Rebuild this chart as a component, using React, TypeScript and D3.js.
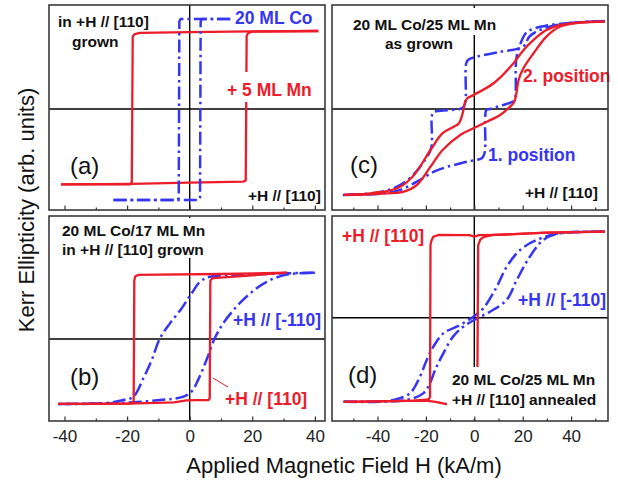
import { useEffect, useRef } from 'react';
import * as d3 from 'd3';

// field ticks (kA/m)
const ticksAB = [-40, -30, -20, -10, 0, 10, 20, 30, 40];
const ticksCD = [-50, -40, -30, -20, -10, 0, 10, 20, 30, 40, 50];
const labelTicks = [-40, -20, 0, 20, 40];

// curves: [H (kA/m), Kerr ellipticity (arb.)], one array per branch
// (a) 20 ML Co (blue) and + 5 ML Mn (red)
const aRedDown = [[41.1, 1.026], [20, 1.02], [0, 1.01], [-15.9, 1.0], [-17.6, 0.985], [-18.2, 0.95], [-18.5, -0.96], [-18.9, -0.99], [-30, -0.991], [-41.1, -0.991]];
const aRedUp = [[-41.1, -0.991], [-18.5, -0.985], [0, -0.97], [17.1, -0.956], [17.9, -0.94], [18.2, 0.96], [18.7, 1.0], [20, 1.017], [41.1, 1.026]];
const aBlueDown = [[13, 1.184], [-2.9, 1.184], [-3.3, 1.15], [-3.5, -1.17], [-3.9, -1.197], [-24.4, -1.197]];
const aBlueUp = [[-24.4, -1.197], [2.8, -1.197], [3.3, -1.17], [3.5, 1.15], [3.9, 1.184], [13, 1.184]];

// (b) 20 ML Co/17 ML Mn
const bRedDown = [[31, 1.02], [10, 1.0], [-10, 0.99], [-16.5, 0.985], [-17.4, 0.96], [-17.7, 0.9], [-17.9, -0.95], [-18.3, -0.99], [-30, -1.0], [-42, -1.0]];
const bRedUp = [[-42, -1.0], [-20, -0.995], [-5, -0.975], [-1, -0.945], [2, -0.94], [6.0, -0.94], [6.4, -0.91], [6.6, 0.9], [7.3, 0.935], [12, 0.95], [20, 0.98], [31, 1.02]];
const bBlueDown = [[40, 1.02], [31, 1.01], [17.1, 0.985], [6.5, 0.958], [3.3, 0.88], [0.6, 0.7], [-2.6, 0.47], [-6.3, 0.24], [-9.5, 0.01], [-12.1, -0.32], [-14.8, -0.605], [-18.0, -0.888], [-21.2, -0.94], [-25.5, -0.98], [-42, -1.0]];
const bBlueUp = [[-42, -1.0], [-25, -0.99], [-9.5, -0.94], [-2.0, -0.888], [0.6, -0.81], [2.7, -0.63], [5.4, -0.32], [8.0, 0.01], [10.7, 0.24], [15.0, 0.5], [19.3, 0.7], [24.6, 0.88], [31, 0.99], [40, 1.02]];

// (c) 20 ML Co/25 ML Mn as grown, 2. position (red), 1. position (blue)
const cRedDown = [[54, 1.01], [43.6, 0.998], [35.3, 0.97], [29.8, 0.913], [24.5, 0.8], [20.3, 0.68], [16.2, 0.528], [8.0, 0.297], [-0.3, 0.162], [-3.0, 0.12], [-4.0, 0.06], [-5.0, -0.07], [-6.5, -0.17], [-8.5, -0.205], [-13.1, -0.28], [-18.1, -0.474], [-25.4, -0.78], [-31.9, -0.917], [-42.9, -0.975], [-53.9, -0.994]];
const cRedUp = [[-53.9, -0.994], [-39.2, -0.98], [-29.1, -0.955], [-23.8, -0.88], [-18.1, -0.667], [-13.1, -0.474], [-5.8, -0.3], [-0.3, -0.223], [5.2, -0.147], [10.7, -0.069], [14.8, 0.027], [16.5, 0.08], [17.5, 0.2], [18.3, 0.335], [20.3, 0.47], [24.5, 0.644], [29.8, 0.836], [35.3, 0.95], [43.6, 0.998], [54, 1.01]];
const cBlueDown = [[54, 1.017], [39.5, 0.994], [29.2, 0.936], [23.0, 0.844], [20.1, 0.72], [10.6, 0.66], [1.1, 0.605], [-2.6, 0.566], [-3.4, 0.52], [-3.6, 0.1], [-4.3, 0.03], [-6.0, 0.0], [-14.2, -0.02], [-17.0, -0.04], [-17.6, -0.1], [-17.8, -0.45], [-20.4, -0.59], [-26.6, -0.8], [-32.8, -0.91], [-41.1, -0.97], [-54.3, -0.994]];
const cBlueUp = [[-54.3, -0.994], [-39, -0.98], [-30.7, -0.936], [-22.4, -0.82], [-17.1, -0.73], [-11.3, -0.67], [-3.0, -0.61], [3.2, -0.566], [4.3, -0.5], [4.5, -0.1], [5.0, -0.01], [6.5, 0.0], [10.6, 0.035], [14.7, 0.07], [16.6, 0.1], [17.1, 0.2], [17.3, 0.566], [18.9, 0.74], [21.8, 0.89], [29.2, 0.96], [39.5, 0.994], [54, 1.017]];

// (d) 20 ML Co/25 ML Mn annealed
const dRedDown = [[54, 1.012], [30, 1.0], [10, 0.975], [2, 0.97], [0, 0.953], [-2, 0.97], [-14.9, 0.973], [-17.0, 0.95], [-17.8, 0.9], [-18.1, 0.85], [-18.3, -0.93], [-18.8, -0.96], [-25, -0.975], [-40, -0.985], [-54, -0.99]];
const dRedUp = [[-54, -0.99], [-40, -0.985], [-20, -0.975], [-16, -0.99], [-12, -1.015], [-5, -1.0], [0, -0.98], [1.0, -0.95], [1.3, -0.6], [1.6, 0.85], [2.5, 0.92], [4, 0.95], [8, 0.973], [30, 1.0], [54, 1.012]];
const dBlueDown = [[54, 1.01], [35.4, 0.993], [25.8, 0.914], [18.9, 0.796], [13.4, 0.6], [9.3, 0.365], [3.7, 0.11], [-0.4, 0.012], [-5.9, -0.086], [-12.8, -0.184], [-16.9, -0.34], [-19.7, -0.5], [-22.4, -0.69], [-26.6, -0.89], [-33.5, -0.968], [-39.2, -0.988], [-54, -0.99]];
const dBlueUp = [[-54, -0.99], [-39, -0.985], [-27.9, -0.968], [-21.1, -0.89], [-18.3, -0.77], [-16.2, -0.615], [-12.8, -0.42], [-8.7, -0.22], [-4.5, -0.106], [1.0, -0.01], [6.5, 0.07], [13.4, 0.21], [17.5, 0.44], [23.0, 0.72], [28.5, 0.914], [35.4, 0.993], [54, 1.01]];

const RED = '#ec1c2a';
const BLUE = '#3535f2';
const FONT = "'Liberation Sans', Arial, sans-serif";

const panels = [
  {
    left: 49, top: 5, xDomain: [-44.95, 43.23], yDomain: [-1.329, 1.368], ticks: ticksAB, bottom: false,
    series: [
      { data: aRedDown, color: RED }, { data: aRedUp, color: RED },
      { data: aBlueDown, color: BLUE, dash: true }, { data: aBlueUp, color: BLUE, dash: true },
    ],
    boxes: [[232, 9, 86, 19], [224, 72, 92, 30]],
    notes: [
      { t: 'in +H // [110]', x: 58, y: 27 },
      { t: 'grown', x: 72, y: 47 },
      { t: '(a)', x: 70, y: 174, normal: true },
      { t: '+H // [110]', x: 248, y: 201 },
      { t: '20 ML Co', x: 235, y: 24, c: BLUE },
      { t: '+ 5 ML Mn', x: 227, y: 96, c: RED },
    ],
  },
  {
    left: 49, top: 216, xDomain: [-44.95, 43.23], yDomain: [-1.262, 1.892], ticks: ticksAB, bottom: true,
    series: [
      { data: bBlueDown, color: BLUE, dash: true, smooth: true }, { data: bBlueUp, color: BLUE, dash: true, smooth: true },
      { data: bRedDown, color: RED }, { data: bRedUp, color: RED },
    ],
    boxes: [[55, 218, 158, 40]],
    notes: [
      { t: '20 ML Co/17 ML Mn', x: 62, y: 236 },
      { t: 'in +H // [110] grown', x: 62, y: 255 },
      { t: '(b)', x: 70, y: 385, normal: true },
      { t: '+H // [-110]', x: 233, y: 326, c: BLUE },
      { t: '+H // [110]', x: 225, y: 405, c: RED },
    ],
    leader: [213, 378, 228, 387],
  },
  {
    left: 332, top: 5, xDomain: [-58.8, 55.25], yDomain: [-1.168, 1.202], ticks: ticksCD, bottom: false,
    series: [
      { data: cBlueDown, color: BLUE, dash: true, smooth: true }, { data: cBlueUp, color: BLUE, dash: true, smooth: true },
      { data: cRedDown, color: RED, smooth: true }, { data: cRedUp, color: RED, smooth: true },
    ],
    boxes: [[346, 8, 160, 27]],
    notes: [
      { t: '20 ML Co/25 ML Mn', x: 353, y: 30 },
      { t: 'as grown', x: 385, y: 49 },
      { t: '2. position', x: 523, y: 82, c: RED },
      { t: '1. position', x: 488, y: 161, c: BLUE },
      { t: '(c)', x: 350, y: 173, normal: true },
      { t: '+H // [110]', x: 525, y: 198 },
    ],
  },
  {
    left: 332, top: 216, xDomain: [-58.8, 55.25], yDomain: [-1.215, 1.196], ticks: ticksCD, bottom: true,
    series: [
      { data: dBlueDown, color: BLUE, dash: true, smooth: true }, { data: dBlueUp, color: BLUE, dash: true, smooth: true },
      { data: dRedDown, color: RED }, { data: dRedUp, color: RED },
    ],
    boxes: [[447, 367, 159, 52]],
    notes: [
      { t: '+H // [110]', x: 342, y: 242, c: RED },
      { t: '+H // [-110]', x: 518, y: 306, c: BLUE },
      { t: '(d)', x: 348, y: 383, normal: true },
      { t: '20 ML Co/25 ML Mn', x: 452, y: 385 },
      { t: '+H // [110] annealed', x: 452, y: 405 },
    ],
  },
];

const W = 276;
const H = 205;

const App = () => {
  const ref = useRef(null);

  useEffect(() => {
    const svg = d3.select(ref.current);
    svg.selectAll('*').remove();
    svg.append('rect').attr('width', 618).attr('height', 481).attr('fill', '#fff');

    panels.forEach((p) => {
      const x = d3.scaleLinear().domain(p.xDomain).range([p.left, p.left + W]);
      const y = d3.scaleLinear().domain(p.yDomain).range([p.top + H, p.top]);
      const g = svg.append('g');

      // zero lines
      g.append('line').attr('x1', p.left).attr('x2', p.left + W).attr('y1', y(0)).attr('y2', y(0))
        .attr('stroke', '#000').attr('stroke-width', 1.4);
      g.append('line').attr('x1', x(0)).attr('x2', x(0)).attr('y1', p.top).attr('y2', p.top + H)
        .attr('stroke', '#000').attr('stroke-width', 1.4);

      p.series.forEach((s) => {
        const line = d3.line().x((d) => x(d[0])).y((d) => y(d[1]))
          .curve(s.smooth ? d3.curveCatmullRom.alpha(0.5) : d3.curveLinear);
        g.append('path').attr('d', line(s.data)).attr('fill', 'none').attr('stroke', s.color)
          .attr('stroke-width', s.dash ? 2.5 : 2.3).attr('stroke-linejoin', 'round')
          .attr('stroke-dasharray', s.dash ? '13,4,2.5,4' : null);
      });

      p.boxes.forEach((b) => {
        g.append('rect').attr('x', b[0]).attr('y', b[1]).attr('width', b[2]).attr('height', b[3]).attr('fill', '#fff');
      });

      if (p.leader) {
        g.append('line').attr('x1', p.leader[0]).attr('y1', p.leader[1]).attr('x2', p.leader[2]).attr('y2', p.leader[3])
          .attr('stroke', RED).attr('stroke-width', 1);
      }

      p.notes.forEach((n) => {
        g.append('text').attr('x', n.x).attr('y', n.y).text(n.t)
          .attr('font-family', FONT)
          .attr('font-size', n.normal ? 24 : n.c ? 17.5 : 15.5)
          .attr('font-weight', n.normal ? 'normal' : 'bold')
          .attr('fill', n.c || '#111');
      });

      // ticks inside the bottom border
      const minor = g.append('g').attr('transform', `translate(0,${p.top + H})`)
        .call(d3.axisBottom(x).tickValues(p.ticks.filter((t) => !labelTicks.includes(t))).tickSizeInner(-2.5).tickSizeOuter(0).tickFormat(() => ''));
      minor.select('.domain').remove();
      minor.selectAll('line').attr('stroke', '#333').attr('stroke-width', 1.2);

      const major = g.append('g').attr('transform', `translate(0,${p.top + H})`)
        .call(d3.axisBottom(x).tickValues(labelTicks).tickSizeInner(-4.5).tickSizeOuter(0).tickPadding(9)
          .tickFormat((d) => (p.bottom ? String(d) : '')));
      major.select('.domain').remove();
      major.selectAll('line').attr('stroke', '#333').attr('stroke-width', 1.2);
      major.selectAll('text').attr('font-family', FONT).attr('font-size', 17).attr('fill', '#222');

      g.append('rect').attr('x', p.left).attr('y', p.top).attr('width', W).attr('height', H)
        .attr('fill', 'none').attr('stroke', '#3a3a3a').attr('stroke-width', 1.6);
    });

    svg.append('text').attr('x', 344).attr('y', 473).attr('text-anchor', 'middle')
      .attr('font-family', FONT).attr('font-size', 22).attr('fill', '#111')
      .text('Applied Magnetic Field H (kA/m)');
    svg.append('text').attr('transform', 'rotate(-90)').attr('x', -210).attr('y', 34).attr('text-anchor', 'middle')
      .attr('font-family', FONT).attr('font-size', 22).attr('fill', '#111')
      .text('Kerr Ellipticity (arb. units)');
  }, []);

  return <svg ref={ref} width={618} height={481} style={{ position: 'absolute', left: 0, top: 0 }}></svg>;
};

export default App;
